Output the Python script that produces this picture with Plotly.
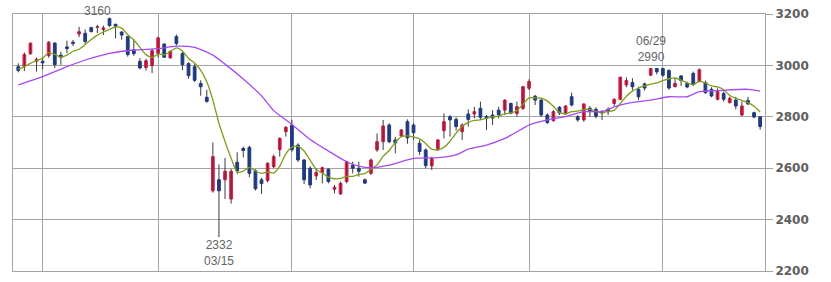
import pandas as pd
import plotly.graph_objects as go

# ---------------- data ----------------
holidays = ["2011-02-11", "2011-03-21", "2011-04-29", "2011-05-03",
            "2011-05-04", "2011-05-05", "2011-07-18"]
dates = [d.strftime("%Y-%m-%d") for d in
         pd.bdate_range("2011-01-26", "2011-07-26", freq="C", holidays=holidays)]

opens = [2995, 2995, 3045, 3016, 3016, 3038, 3087, 3040, 3072, 3090,
         3122, 3125, 3147, 3148, 3139, 3182, 3160, 3130, 3112, 3060,
         3016, 2992, 2999, 3047, 3083, 3029, 3112, 3046, 3007, 2995,
         2930, 2876, 2512, 2555, 2555, 2480, 2623, 2677, 2681, 2590,
         2555, 2552, 2606, 2672, 2742, 2768, 2690, 2632, 2600, 2570,
         2583, 2596, 2518, 2500, 2548, 2612, 2600, 2555, 2580, 2671,
         2703, 2768, 2710, 2725, 2781, 2768, 2697, 2671, 2609, 2671,
         2746, 2800, 2790, 2742, 2811, 2811, 2833, 2801, 2807, 2826,
         2826, 2852, 2813, 2833, 2911, 2880, 2865, 2807, 2785, 2837,
         2814, 2878, 2800, 2788, 2833, 2829, 2821, 2829, 2852, 2868,
         2924, 2933, 2907, 2928, 2962, 2988, 2988, 2980, 2917, 2959,
         2930, 2969, 2937, 2933, 2907, 2868, 2891, 2855, 2865, 2807,
         2863, 2816, 2800]
highs = [3008, 3050, 3090, 3030, 3030, 3095, 3090, 3053, 3096, 3099,
         3150, 3140, 3150, 3158, 3155, 3186, 3162, 3132, 3114, 3101,
         3028, 3026, 3064, 3112, 3086, 3058, 3120, 3052, 3012, 3005,
         2942, 2905, 2700, 2615, 2640, 2597, 2662, 2684, 2688, 2596,
         2562, 2623, 2653, 2720, 2764, 2788, 2697, 2635, 2608, 2600,
         2606, 2600, 2535, 2548, 2629, 2625, 2625, 2560, 2638, 2735,
         2788, 2775, 2722, 2752, 2790, 2775, 2710, 2677, 2645, 2713,
         2813, 2807, 2798, 2775, 2829, 2839, 2859, 2807, 2826, 2839,
         2868, 2855, 2859, 2920, 2946, 2885, 2872, 2814, 2826, 2842,
         2846, 2894, 2807, 2852, 2842, 2837, 2826, 2837, 2872, 2956,
         2954, 2950, 2917, 2933, 2990, 2990, 2990, 2985, 2950, 2963,
         2937, 2976, 2988, 2941, 2915, 2911, 2898, 2878, 2878, 2859,
         2878, 2820, 2803]
lows = [2973, 2978, 3042, 2976, 2985, 3030, 2990, 3002, 3047, 3075,
        3110, 3083, 3128, 3126, 3118, 3150, 3105, 3100, 3034, 3037,
        2985, 2980, 2970, 3031, 3029, 3027, 3077, 2982, 2948, 2935,
        2882, 2855, 2505, 2332, 2480, 2462, 2577, 2642, 2565, 2513,
        2500, 2545, 2600, 2645, 2723, 2664, 2625, 2538, 2522, 2554,
        2541, 2541, 2502, 2496, 2541, 2580, 2567, 2538, 2574, 2664,
        2671, 2697, 2658, 2722, 2695, 2710, 2651, 2600, 2593, 2668,
        2716, 2723, 2746, 2710, 2762, 2794, 2788, 2749, 2768, 2794,
        2807, 2810, 2800, 2826, 2904, 2846, 2800, 2772, 2781, 2807,
        2807, 2840, 2781, 2781, 2800, 2794, 2788, 2807, 2842, 2865,
        2915, 2904, 2865, 2902, 2958, 2965, 2955, 2905, 2915, 2920,
        2911, 2920, 2934, 2889, 2876, 2864, 2859, 2852, 2829, 2803,
        2846, 2794, 2750]
closes = [2980, 3042, 3086, 3024, 3010, 3090, 3003, 3032, 3065, 3085,
          3131, 3093, 3132, 3150, 3146, 3155, 3152, 3118, 3042, 3046,
          2990, 3018, 3057, 3107, 3032, 3055, 3085, 3003, 2960, 2942,
          2917, 2860, 2645, 2512, 2588, 2588, 2590, 2669, 2580, 2520,
          2540, 2619, 2645, 2716, 2759, 2672, 2632, 2555, 2535, 2583,
          2602, 2548, 2526, 2541, 2625, 2600, 2588, 2542, 2632, 2703,
          2764, 2703, 2698, 2749, 2718, 2738, 2665, 2610, 2638, 2710,
          2781, 2788, 2762, 2768, 2790, 2820, 2798, 2795, 2795, 2808,
          2865, 2814, 2839, 2917, 2937, 2865, 2807, 2778, 2820, 2815,
          2842, 2846, 2788, 2850, 2820, 2802, 2815, 2820, 2868, 2954,
          2941, 2917, 2878, 2912, 2988, 2975, 2962, 2912, 2930, 2941,
          2916, 2925, 2983, 2894, 2881, 2898, 2868, 2872, 2842, 2842,
          2850, 2799, 2762]

# short moving average (green), one value per session
ma_short = [2985, 2995, 3008, 3018, 3028, 3050, 3043, 3032, 3040, 3055,
            3063, 3081, 3101, 3118, 3130, 3140, 3150, 3145, 3119, 3099,
            3070, 3042, 3031, 3044, 3041, 3054, 3068, 3056, 3027, 3009,
            2981, 2936, 2865, 2775, 2704, 2639, 2585, 2589, 2603, 2589,
            2580, 2586, 2581, 2608, 2656, 2682, 2685, 2667, 2631, 2595,
            2581, 2565, 2559, 2560, 2568, 2568, 2576, 2579, 2597, 2613,
            2646, 2669, 2700, 2723, 2726, 2721, 2714, 2696, 2674, 2672,
            2681, 2705, 2736, 2762, 2778, 2786, 2788, 2794, 2800, 2803,
            2812, 2815, 2824, 2849, 2874, 2874, 2873, 2861, 2841, 2817,
            2812, 2820, 2822, 2828, 2829, 2821, 2815, 2821, 2825, 2852,
            2880, 2900, 2912, 2920, 2927, 2932, 2941, 2948, 2951, 2943,
            2932, 2925, 2939, 2932, 2920, 2916, 2905, 2883, 2872, 2864,
            2855, 2841, 2819]

ma_long_dates = ["2011-01-26", "2011-02-01", "2011-02-07", "2011-02-10", "2011-02-17",
                 "2011-02-23", "2011-03-01", "2011-03-04", "2011-03-09", "2011-03-14",
                 "2011-03-16", "2011-03-22", "2011-03-25", "2011-03-29", "2011-04-01",
                 "2011-04-06", "2011-04-11", "2011-04-14", "2011-04-18", "2011-04-20",
                 "2011-04-25", "2011-05-02", "2011-05-11", "2011-05-16", "2011-05-18",
                 "2011-05-23", "2011-05-26", "2011-05-31", "2011-06-01", "2011-06-06",
                 "2011-06-09", "2011-06-14", "2011-06-17", "2011-06-21", "2011-06-24",
                 "2011-06-29", "2011-07-04", "2011-07-07", "2011-07-11", "2011-07-14",
                 "2011-07-22", "2011-07-26"]
ma_long = [2924, 2956, 2995, 3021, 3047, 3060, 3065, 3075, 3070, 3040,
           3005, 2947, 2882, 2824, 2770, 2712, 2667, 2625, 2608, 2602,
           2612, 2638, 2641, 2652, 2674, 2690, 2716, 2755, 2768, 2788,
           2801, 2820, 2820, 2839, 2856, 2865, 2878, 2878, 2898, 2902,
           2907, 2900]

month_starts = ["2011-02-01", "2011-03-01", "2011-04-01", "2011-05-02",
                "2011-06-01", "2011-07-01"]
y_ticks = [2200, 2400, 2600, 2800, 3000, 3200]

# ---------------- style ----------------
RED = "#ee1a48"
BLUE = "#183c9c"
WICK = "#3a3a3a"
GRID = "#a4a4a4"
GREEN = "#7f9d1c"
PURPLE = "#a64af0"
TXT = "#666666"

fig = go.Figure()

wx, wy = [], []
for d, h, l in zip(dates, highs, lows):
    wx += [d, d, None]
    wy += [l, h, None]
fig.add_trace(go.Scatter(x=wx, y=wy, mode="lines",
                         line=dict(color=WICK, width=1), hoverinfo="skip"))

body_hi = [max(o, c) for o, c in zip(opens, closes)]
body_lo = [min(o, c) for o, c in zip(opens, closes)]
fig.add_trace(go.Candlestick(
    x=dates, open=opens, high=body_hi, low=body_lo, close=closes,
    increasing=dict(line=dict(color=RED, width=1), fillcolor=RED),
    decreasing=dict(line=dict(color=BLUE, width=1), fillcolor=BLUE),
    whiskerwidth=0))

fig.add_trace(go.Scatter(x=dates, y=ma_short, mode="lines",
                         line=dict(color=GREEN, width=1.3, shape="spline", smoothing=0.6)))
fig.add_trace(go.Scatter(x=ma_long_dates, y=ma_long, mode="lines",
                         line=dict(color=PURPLE, width=1.3, shape="spline", smoothing=0.6)))

afont = dict(family="Liberation Sans, Arial, sans-serif", size=12, color=TXT)
fig.add_annotation(x="2011-02-15", y=3160, text="3160", showarrow=False,
                   yanchor="bottom", yshift=4, font=afont)
fig.add_annotation(x="2011-06-29", y=2990, text="06/29<br>2990", showarrow=False,
                   yanchor="bottom", yshift=2, font=afont)
fig.add_annotation(x="2011-03-15", y=2332, text="2332<br>03/15", showarrow=False,
                   yanchor="top", yshift=1, font=afont)

fig.update_layout(
    width=831, height=282,
    margin=dict(l=13, r=66, t=14, b=11, autoexpand=False),
    paper_bgcolor="white", plot_bgcolor="white",
    showlegend=False,
    boxgap=0.35,
    xaxis=dict(type="category", categoryorder="array", categoryarray=dates,
               range=[-0.87, 122.8], tickvals=month_starts, showticklabels=False,
               ticks="", showgrid=True, gridcolor=GRID, gridwidth=1,
               showline=True, linecolor=GRID, linewidth=1, mirror=True,
               zeroline=False, automargin=False, rangeslider=dict(visible=False)),
    yaxis=dict(side="right", range=[2200, 3200], tickvals=y_ticks,
               showgrid=True, gridcolor=GRID, gridwidth=1,
               ticks="outside", ticklen=7, tickcolor=GRID,
               tickfont=dict(family="DejaVu Sans", size=12, color="#5e5e5e", weight="bold"),
               showline=True, linecolor=GRID, linewidth=1, mirror=True,
               zeroline=False, automargin=False),
)

fig.write_html("out.html", config={"displayModeBar": False})
